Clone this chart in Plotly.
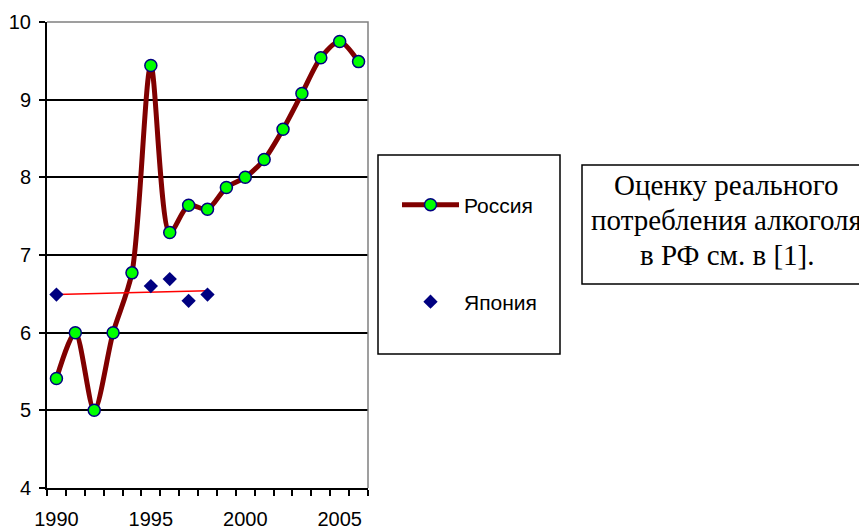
"""Russia vs Japan chart, rebuilt in Plotly."""

import plotly.graph_objects as go

# data
years = list(range(1990, 2007))
russia = [5.41, 6.0, 5.0, 6.0, 6.77, 9.44, 7.29, 7.64, 7.59, 7.87, 8.0,
          8.23, 8.62, 9.08, 9.54, 9.75, 9.49]
japan_years = [1990, 1995, 1996, 1997, 1998]
japan = [6.49, 6.6, 6.69, 6.41, 6.49]
trend_years = [1990, 1998]
trend = [6.49, 6.54]

x_ticks = [1990, 1995, 2000, 2005]
y_ticks = [4, 5, 6, 7, 8, 9, 10]

note_lines = ["Оценку реального", "потребления алкоголя", "в РФ см. в [1]."]

# colours
DARK_RED = '#800000'
GREEN = '#00FF00'
NAVY = '#000080'
RED = '#FF0000'
GRAY = '#808080'

# the html body has an 8px margin, so the figure is a bit smaller
PAGE = 8
W, H = 867 - PAGE, 530 - PAGE
# plot area in page pixels: x 47..368, y 22..488
L, T = 47 - PAGE, 22 - PAGE
R, B = W - (368 - PAGE), H - (488 - PAGE)


def px_x(px):
    return (px - PAGE - L) / (W - L - R)


def px_y(py):
    return (H - B - (py - PAGE)) / (H - T - B)


fig = go.Figure()

fig.add_trace(go.Scatter(
    x=years, y=russia, name='Россия', mode='lines+markers',
    line=dict(color=DARK_RED, width=5, shape='spline', smoothing=0.8),
    marker=dict(size=12, color=GREEN, line=dict(color=NAVY, width=1.5)),
    legend='legend',
))

fig.add_trace(go.Scatter(
    x=trend_years, y=trend, mode='lines',
    line=dict(color=RED, width=1.5), showlegend=False,
))

fig.add_trace(go.Scatter(
    x=japan_years, y=japan, name='Япония', mode='markers',
    marker=dict(size=11, color=NAVY, symbol='diamond'),
    legend='legend2',
))

legend_style = dict(
    font=dict(family='Liberation Sans, Arial', size=21, color='black'),
    bgcolor='rgba(0,0,0,0)', borderwidth=0, itemwidth=57,
    xanchor='left', yanchor='middle', x=px_x(397),
)

# legend frame and note frame
fig.add_shape(type='rect', xref='paper', yref='paper',
              x0=px_x(378), x1=px_x(560), y0=px_y(354), y1=px_y(155),
              line=dict(color='black', width=1.5))
fig.add_shape(type='rect', xref='paper', yref='paper',
              x0=px_x(582), x1=px_x(865), y0=px_y(284), y1=px_y(165),
              line=dict(color='black', width=1.5))
# gray top/right plot border
fig.add_shape(type='path', xref='paper', yref='paper',
              path='M 0,1 L 1,1 L 1,0', line=dict(color=GRAY, width=1.5),
              layer='above')

for line, py in zip(note_lines, [185, 220, 255]):
    fig.add_annotation(
        xref='paper', yref='paper', x=px_x(727), y=px_y(py),
        xanchor='center', yanchor='middle',
        text=line, showarrow=False,
        font=dict(family='Liberation Serif, Times New Roman', size=29,
                  color='black'),
    )

fig.update_layout(
    width=W, height=H,
    paper_bgcolor='white', plot_bgcolor='white',
    margin=dict(l=L, r=R, t=T, b=B, autoexpand=False),
    font=dict(family='Liberation Sans, Arial', size=20, color='black'),
    legend=dict(legend_style, y=px_y(205)),
    legend2=dict(legend_style, y=px_y(302)),
    xaxis=dict(
        range=[1989.5, 2006.5], tickmode='array', tickvals=x_ticks,
        ticks='', ticklabelstandoff=12, showgrid=False, zeroline=False,
        showline=True, linecolor='black', linewidth=2, automargin=False,
        minor=dict(tickmode='linear', tick0=1989.5, dtick=1,
                   ticks='outside', ticklen=6, tickcolor='black',
                   tickwidth=1.5, showgrid=False),
    ),
    yaxis=dict(
        range=[4, 10], tickmode='array', tickvals=y_ticks,
        ticks='outside', ticklen=6, tickcolor='black', tickwidth=1.5,
        ticklabelstandoff=4, automargin=False,
        showgrid=True, gridcolor='black', gridwidth=1.5, zeroline=False,
        showline=True, linecolor='black', linewidth=2,
    ),
)

fig.write_html("out.html")
